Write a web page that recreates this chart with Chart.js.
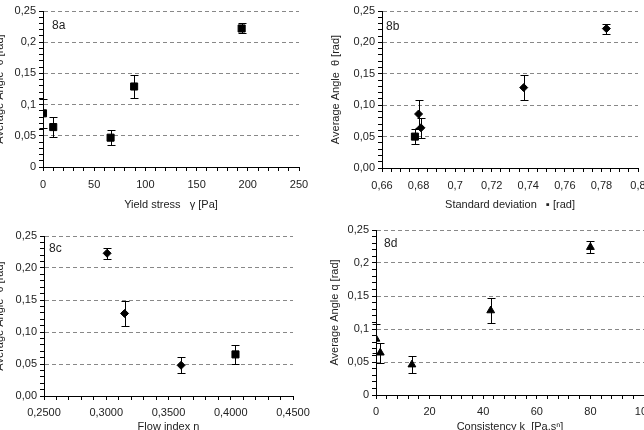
<!DOCTYPE html>
<html>
<head>
<meta charset="utf-8">
<script src="https://cdn.jsdelivr.net/npm/chart.js@4.4.0/dist/chart.umd.min.js"></script>
<style>
  html, body { margin: 0; padding: 0; background: #fff; }
  body { width: 644px; height: 430px; overflow: hidden; position: relative; }
  canvas { position: absolute; }
</style>
</head>
<body>
<canvas id="c8a" width="329" height="215" style="left:-7px;top:0px"></canvas>
<canvas id="c8b" width="346" height="215" style="left:322px;top:0px"></canvas>
<canvas id="c8c" width="329" height="220" style="left:-7px;top:215px"></canvas>
<canvas id="c8d" width="350" height="220" style="left:322px;top:215px"></canvas>
<script>
// 8a - yield stress
const aX = [0, 10, 66, 89, 194];
const aY = [0.086, 0.064, 0.047, 0.129, 0.222];
const aErr = [0.023, 0.016, 0.012, 0.019, 0.008];
const aXTicks = ['0', '50', '100', '150', '200', '250'];
const aYTicks = ['0', '0,05', '0,1', '0,15', '0,2', '0,25'];

// 8b - standard deviation
const bX = [0.678, 0.680, 0.6813, 0.7375, 0.7827];
const bY = [0.050, 0.086, 0.064, 0.128, 0.222];
const bErr = [0.012, 0.023, 0.016, 0.0195, 0.008];
const bXTicks = ['0,66', '0,68', '0,7', '0,72', '0,74', '0,76', '0,78', '0,8'];
const bYTicks = ['0,00', '0,05', '0,10', '0,15', '0,20', '0,25'];

// 8c - flow index
const cX = [0.3007, 0.3147, 0.3601, 0.4038];
const cY = [0.223, 0.129, 0.048, 0.065];
const cErr = [0.009, 0.0195, 0.0125, 0.015];
const cXTicks = ['0,2500', '0,3000', '0,3500', '0,4000', '0,4500'];
const cYTicks = ['0,00', '0,05', '0,10', '0,15', '0,20', '0,25'];

// 8d - consistency
const dX = [0, 1.6, 13.4, 42.8, 80];
const dY = [0.085, 0.064, 0.046, 0.128, 0.224];
const dErr = [0.022, 0.0155, 0.013, 0.0195, 0.0095];
const dXTicks = ['0', '20', '40', '60', '80', '100'];
const dYTicks = ['0', '0,05', '0,1', '0,15', '0,2', '0,25'];

const FONT = 'Liberation Sans, Arial, sans-serif';
const MARK_SIZE = {rect: 5, rectRot: 4, triangle: 4.5};

const errorBars = {
  id: 'errorBars',
  beforeDatasetsDraw(chart, args, opts) {
    const {ctx} = chart;
    const x = chart.scales.x, y = chart.scales.y;
    const pts = chart.data.datasets[0].data;
    ctx.save();
    ctx.strokeStyle = '#000';
    ctx.lineWidth = 1;
    pts.forEach((p, i) => {
      const e = opts.errors[i];
      const px = Math.round(x.getPixelForValue(p.x)) + 0.5;
      const top = Math.round(y.getPixelForValue(p.y + e)) + 0.5;
      const bot = Math.round(y.getPixelForValue(p.y - e)) + 0.5;
      ctx.beginPath();
      ctx.moveTo(px, top); ctx.lineTo(px, bot);
      ctx.moveTo(px - 4, top); ctx.lineTo(px + 4, top);
      ctx.moveTo(px - 4, bot); ctx.lineTo(px + 4, bot);
      ctx.stroke();
    });
    ctx.restore();
  }
};

const tagLabel = {
  id: 'tagLabel',
  afterDraw(chart, args, opts) {
    const {ctx, chartArea} = chart;
    ctx.save();
    ctx.font = '12px ' + FONT;
    ctx.fillStyle = '#222';
    ctx.textBaseline = 'top';
    ctx.fillText(opts.text, chartArea.left + opts.dx, chartArea.top + opts.dy);
    ctx.restore();
  }
};

function pickLabel(v, min, step, labels) {
  const k = (v - min) / step;
  const r = Math.round(k);
  return Math.abs(k - r) < 1e-6 ? labels[r] : '';
}

function panel(id, p) {
  new Chart(document.getElementById(id), {
    type: 'scatter',
    data: {
      datasets: [{
        data: p.xs.map((x, i) => ({x: x, y: p.ys[i]})),
        pointStyle: p.marks,
        pointRadius: p.marks.map(m => MARK_SIZE[m]),
        backgroundColor: '#000',
        borderColor: '#000',
        borderWidth: 1
      }]
    },
    options: {
      responsive: false,
      animation: false,
      events: [],
      layout: {padding: {top: p.padTop, right: p.padRight, left: 0, bottom: 0}},
      plugins: {
        legend: {display: false},
        tooltip: {enabled: false},
        errorBars: {errors: p.errs},
        tagLabel: {text: p.tag, dx: p.tagDx, dy: p.tagDy}
      },
      scales: {
        x: {
          type: 'linear',
          min: p.xMin, max: p.xMax,
          afterFit: s => { s.height = p.xAxisH; },
          border: {color: '#000', width: 1},
          grid: {drawOnChartArea: false, drawTicks: true, tickLength: 4, tickColor: '#000'},
          ticks: {
            stepSize: p.xMinor, autoSkip: false, maxRotation: 0, padding: p.xTickPad,
            color: '#222', font: {family: FONT, size: 11},
            callback: v => pickLabel(v, p.xMin, p.xMajor, p.xTicks)
          },
          title: {display: true, text: p.xTitle, color: '#222', font: {family: FONT, size: 11}, padding: {top: 0, bottom: p.xTitlePad}}
        },
        y: {
          type: 'linear',
          min: 0, max: 0.25,
          afterFit: s => { s.width = p.yAxisW; },
          border: {color: '#000', width: 1, dash: [4, 3]},
          grid: {
            color: c => (c.tick && c.tick.value > 0.001 && pickLabel(c.tick.value, 0, 0.05, p.yTicks) !== '') ? '#888' : 'rgba(0,0,0,0)',
            drawTicks: true, tickLength: 4, tickColor: '#000'
          },
          ticks: {
            stepSize: 0.01, autoSkip: false, padding: 3,
            color: '#222', font: {family: FONT, size: 11},
            callback: v => pickLabel(v, 0, 0.05, p.yTicks)
          },
          title: {display: true, text: p.yTitle, color: '#222', font: {family: FONT, size: 11}, padding: {top: p.yTitlePad, bottom: 0}}
        }
      }
    },
    plugins: [errorBars, tagLabel]
  });
}

panel('c8a', {
  xs: aX, ys: aY, errs: aErr, marks: ['rect', 'rect', 'rect', 'rect', 'rect'],
  xMin: 0, xMax: 250, xMinor: 10, xMajor: 50, xTicks: aXTicks, yTicks: aYTicks,
  xTitle: 'Yield stress   γ [Pa]', yTitle: 'Average Angle  θ [rad]',
  tag: '8a', tagDx: 9, tagDy: 9,
  padTop: 11, padRight: 23, xAxisH: 48, yAxisW: 50, xTickPad: 7, xTitlePad: 3, yTitlePad: 0
});

panel('c8b', {
  xs: bX, ys: bY, errs: bErr, marks: ['rect', 'rectRot', 'rectRot', 'rectRot', 'rectRot'],
  xMin: 0.66, xMax: 0.8, xMinor: 0.005, xMajor: 0.02, xTicks: bXTicks, yTicks: bYTicks,
  xTitle: 'Standard deviation   ▪ [rad]', yTitle: 'Average Angle  θ [rad]',
  tag: '8b', tagDx: 4, tagDy: 10,
  padTop: 11, padRight: 30, xAxisH: 47, yAxisW: 60, xTickPad: 7, xTitlePad: 3, yTitlePad: 7
});

panel('c8c', {
  xs: cX, ys: cY, errs: cErr, marks: ['rectRot', 'rectRot', 'rectRot', 'rect'],
  xMin: 0.25, xMax: 0.45, xMinor: 0.01, xMajor: 0.05, xTicks: cXTicks, yTicks: cYTicks,
  xTitle: 'Flow index n', yTitle: 'Average Angle  θ [rad]',
  tag: '8c', tagDx: 5, tagDy: 7,
  padTop: 21, padRight: 29, xAxisH: 39, yAxisW: 51, xTickPad: 6, xTitlePad: 1, yTitlePad: 0
});

panel('c8d', {
  xs: dX, ys: dY, errs: dErr, marks: ['triangle', 'triangle', 'triangle', 'triangle', 'triangle'],
  xMin: 0, xMax: 100, xMinor: 4, xMajor: 20, xTicks: dXTicks, yTicks: dYTicks,
  xTitle: 'Consistency k  [Pa.sⁿ]', yTitle: 'Average Angle q [rad]',
  tag: '8d', tagDx: 8, tagDy: 8,
  padTop: 15, padRight: 28, xAxisH: 40, yAxisW: 54, xTickPad: 6, xTitlePad: 1, yTitlePad: 6
});
</script>
</body>
</html>
